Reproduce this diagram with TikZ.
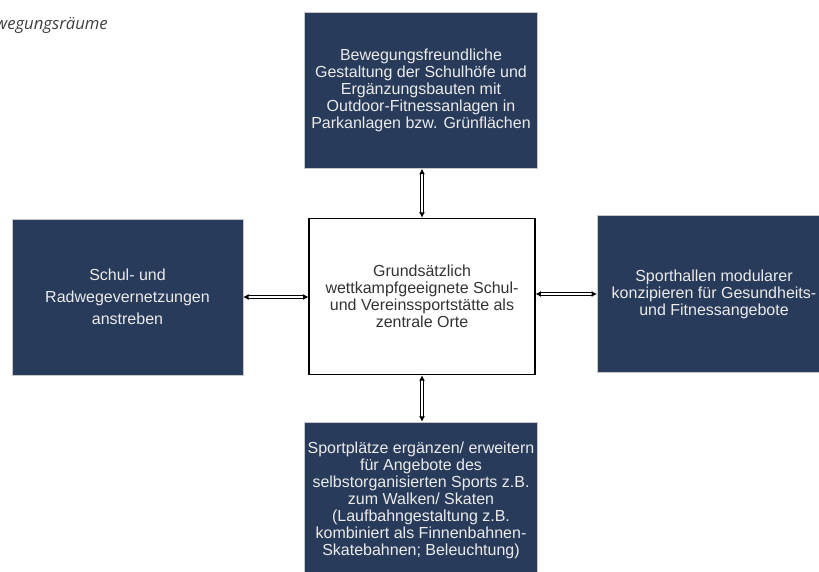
\documentclass[tikz,border=0pt]{standalone}
\usepackage{fontspec}
\setmainfont{Liberation Sans}
\newfontfamily\titlefont{Open Sans}
\usetikzlibrary{arrows.meta}

\definecolor{navy}{HTML}{293B5A}
\definecolor{edgegray}{HTML}{C8C8C8}
\definecolor{inkgray}{HTML}{333333}

\tikzset{
  zone/.style={fill=navy, draw=edgegray, line width=0.5pt, text=white!92!black,
    align=center, minimum width=175pt, minimum height=117pt, inner sep=2pt,
    font=\fontsize{12}{12.75}\selectfont},
  hubbox/.style={fill=white, draw=black, line width=0.8pt, text=inkgray,
    align=center, minimum width=169.5pt, minimum height=117.5pt, inner sep=2pt,
    font=\fontsize{12}{12.75}\selectfont},
  link/.style={double=white, double distance=1.2pt, line width=0.85pt,
    {Latex[length=4pt,width=4.5pt]}-{Latex[length=4pt,width=4.5pt]}}
}

\begin{document}
\begin{tikzpicture}[x=0.75pt, y=-0.75pt]
\useasboundingbox (0,0) rectangle (819,572);

\node[anchor=base east, text=black!75, inner sep=0pt,
  font=\titlefont\itshape\fontsize{12.5}{14}\selectfont] (title) at (108,29) {Bewegungsräume};

% the four fields round the sports ground
\node[zone] (goal) at (421,90.5) {Bewegungsfreundliche\\Gestaltung der Schulhöfe und\\Ergänzungsbauten mit\\Outdoor-Fitnessanlagen in\\Parkanlagen bzw. Grünflächen};
\node[zone, minimum width=173pt, font=\fontsize{12}{16.5}\selectfont] (paths) at (127.5,297) {Schul- und\\Radwegevernetzungen\\anstreben};
\node[zone, minimum height=118pt] (halls) at (714,294) {Sporthallen modularer\\konzipieren für Gesundheits-\\und Fitnessangebote};
\node[zone] (fields) at (421,500) {Sportplätze ergänzen/ erweitern\\für Angebote des\\selbstorganisierten Sports z.B.\\zum Walken/ Skaten\\(Laufbahngestaltung z.B.\\kombiniert als Finnenbahnen-\\Skatebahnen; Beleuchtung)};

\node[hubbox] (hub) at (422,296.5) {Grundsätzlich\\wettkampfgeeignete Schul-\\und Vereinssportstätte als\\zentrale Orte};

\draw[link] (goal.south -| hub) -- (hub.north);
\draw[link] (hub.south) -- (fields.north -| hub);
\draw[link] (paths.east) -- (paths.east -| hub.west);
\draw[link] (hub.east |- halls.west) -- (halls.west);

\end{tikzpicture}
\end{document}
